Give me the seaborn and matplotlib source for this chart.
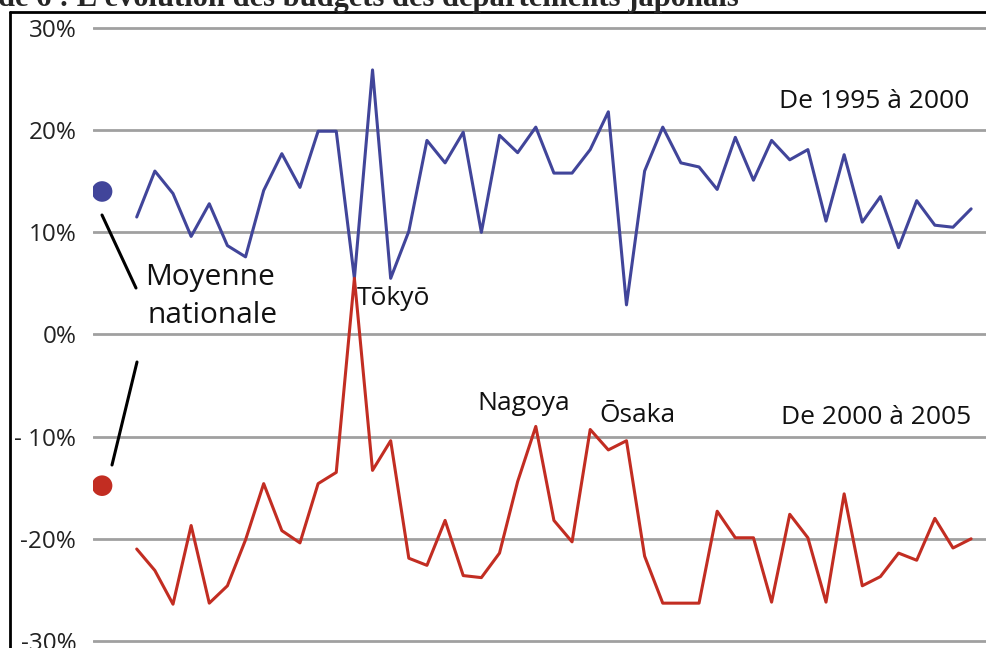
import numpy as np
import pandas as pd
import matplotlib
matplotlib.use("Agg")
import matplotlib.pyplot as plt
from matplotlib.lines import Line2D
import seaborn as sns

# ------------------------------------------------------------------------------
# Data: budget change per prefecture (47)
prefecture = list(range(1, 48))

budget_1995_2000 = [
    11.5, 16.0, 13.8, 9.6, 12.8, 8.7, 7.6, 14.1, 17.7, 14.4,
    19.9, 19.9, 5.5, 25.9, 5.5, 10.1, 19.0, 16.8, 19.8, 10.0,
    19.5, 17.8, 20.3, 15.8, 15.8, 18.1, 21.8, 2.9, 16.0, 20.3,
    16.8, 16.4, 14.2, 19.3, 15.1, 19.0, 17.1, 18.1, 11.1, 17.6,
    11.0, 13.5, 8.5, 13.1, 10.7, 10.5, 12.3,
]

budget_2000_2005 = [
    -21.0, -23.1, -26.4, -18.7, -26.3, -24.6, -20.1, -14.6, -19.2, -20.4,
    -14.6, -13.5, 5.5, -13.3, -10.4, -21.9, -22.6, -18.2, -23.6, -23.8,
    -21.4, -14.4, -9.0, -18.2, -20.3, -9.3, -11.3, -10.4, -21.7, -26.3,
    -26.3, -26.3, -17.3, -19.9, -19.9, -26.2, -17.6, -19.9, -26.2, -15.6,
    -24.6, -23.7, -21.4, -22.1, -18.0, -20.9, -20.0,
]

national_avg = [14.0, -14.8]
period_labels = ["De 1995 à 2000", "De 2000 à 2005"]

y_ticks = [30, 20, 10, 0, -10, -20, -30]
y_tick_labels = ["30%", "20%", "10%", "0%", "- 10%", "-20%", "-30%"]

blue = "#41459a"
red = "#c22d22"

df = pd.DataFrame({
    "pref": prefecture * 2,
    "value": budget_1995_2000 + budget_2000_2005,
    "period": [period_labels[0]] * 47 + [period_labels[1]] * 47,
})

# ------------------------------------------------------------------------------
sns.set_style("white")
plt.rcParams["font.family"] = ["Open Sans", "DejaVu Sans"]

fig = plt.figure(figsize=(9.86, 6.48), dpi=100)
ax = fig.add_axes([93 / 986, 0, 1 - 93 / 986, (648 - 12) / 648])

ax.set_xlim(-1.41, 47.82)
ax.set_ylim(-30.69, 31.57)
ax.set_yticks(y_ticks)
ax.set_yticklabels(y_tick_labels, fontsize=17.5, color="#222222")
ax.tick_params(axis="y", length=0, pad=12)
ax.set_xticks([])
for s in ax.spines.values():
    s.set_visible(False)
for t in y_ticks:
    ax.axhline(t, color="#a0a0a0", lw=2.0, zorder=1)

sns.lineplot(data=df, x="pref", y="value", hue="period",
             palette=[blue, red], lw=2.2, legend=False, ax=ax, zorder=3)
ax.set_xlabel("")
ax.set_ylabel("")

# national average dots
sns.scatterplot(x=[-0.91, -0.91], y=national_avg, hue=[0, 1],
                palette=[blue, red], s=220, edgecolor="none",
                legend=False, ax=ax, zorder=4)

# connector lines to the label (figure pixels)
def px(x, y):
    return x / 986, 1 - y / 648

for (x0, y0), (x1, y1) in [((102, 215), (136, 288)), ((137, 362), (112, 465))]:
    a, b = px(x0, y0)
    c, d = px(x1, y1)
    fig.add_artist(Line2D([a, c], [b, d], color="black", lw=2.2))

fig.text(*px(145, 277), "Moyenne", fontsize=21.5, va="center", color="#111111")
fig.text(*px(147, 315), "nationale", fontsize=21.5, va="center", color="#111111")
fig.text(*px(357, 299), "Tōkyō", fontsize=19, va="center", color="#111111")
fig.text(*px(477, 403), "Nagoya", fontsize=19, va="center", color="#111111")
fig.text(*px(599, 415), "Ōsaka", fontsize=19, va="center", color="#111111")
fig.text(*px(969, 101), period_labels[0], fontsize=19, va="center", ha="right", color="#111111")
fig.text(*px(971, 418), period_labels[1], fontsize=19, va="center", ha="right", color="#111111")

# frame around the document
fig.add_artist(Line2D([10 / 986, 10 / 986], [0, 1 - 12 / 648], color="black", lw=2))
fig.add_artist(Line2D([10 / 986, 1], [1 - 12 / 648, 1 - 12 / 648], color="black", lw=2))

# title, cut off at the top like in the original
fig.text(-0.002, 1 - 6 / 648, "de 6 : L’évolution des budgets des départements japonais",
         fontsize=22, fontweight="bold", family="Liberation Serif", va="baseline")

plt.savefig("out.png", dpi=100)
